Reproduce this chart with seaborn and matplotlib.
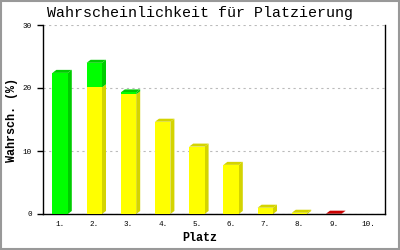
import matplotlib
matplotlib.use("Agg")
import matplotlib.pyplot as plt
from matplotlib.patches import Polygon, Rectangle
import seaborn as sns
import pandas as pd
import numpy as np

places = ["1.", "2.", "3.", "4.", "5.", "6.", "7.", "8.", "9.", "10."]
green_vals = [22.4, 3.9, 0.3, 0, 0, 0, 0, 0, 0, 0]
yellow_vals = [0, 20.1, 19.0, 14.65, 10.7, 7.8, 1.0, 0.2, 0, 0]
red_vals = [0, 0, 0, 0, 0, 0, 0, 0, 0.05, 0]

title = "Wahrscheinlichkeit für Platzierung"
xlabel = "Platz"
ylabel = "Wahrsch. (%)"

sns.set_theme(style="white")
plt.rcParams["font.family"] = ["Liberation Mono", "DejaVu Sans Mono"]

fig = plt.figure(figsize=(4, 2.5), dpi=100)
ax = fig.add_axes([43/400, 1-214/250, (385-43)/400, (214-25)/250])

df = pd.DataFrame({"place": places, "yellow": yellow_vals,
                   "green": green_vals, "red": red_vals})
bottom_green = np.array(yellow_vals)
bottom_red = np.array(yellow_vals) + np.array(green_vals)

front = {"yellow": "#ffff00", "green": "#00ff00", "red": "#ff0000"}
dark = {"yellow": "#d4d400", "green": "#00cc00", "red": "#cc0000"}

width = 0.45
sns.barplot(data=df, x="place", y="yellow", color=front["yellow"], width=width,
            saturation=1, linewidth=0, ax=ax, zorder=3)
sns.barplot(data=df, x="place", y="green", color=front["green"], width=width,
            saturation=1, linewidth=0, ax=ax, zorder=3, bottom=bottom_green)
sns.barplot(data=df, x="place", y="red", color=front["red"], width=width,
            saturation=1, linewidth=0, ax=ax, zorder=3, bottom=bottom_red)

ax.set_xlim(-0.5, 9.5)
ax.set_ylim(0, 30)
ax.set_yticks([0, 10, 20, 30])
ax.yaxis.grid(True, linestyle=(0, (2, 3)), color="#bbbbbb", linewidth=0.8, zorder=0)
ax.set_axisbelow(True)

for side in ["left", "right", "bottom"]:
    ax.spines[side].set_visible(True)
    ax.spines[side].set_color("black")
    ax.spines[side].set_linewidth(1.0)
ax.spines["top"].set_visible(False)

ax.tick_params(axis="y", left=True, length=4, width=1, color="black",
               labelsize=5.5, pad=4, labelcolor="black")
ax.tick_params(axis="x", bottom=False, length=0, labelsize=5.5, pad=5, labelcolor="black")
ax.set_xlabel(xlabel, fontsize=8.5, fontweight="bold", color="black")
ax.set_ylabel(ylabel, fontsize=8.5, fontweight="bold", color="black")
ax.xaxis.set_label_coords((200 - 43) / 342, -(238 - 214) / 189)
ax.yaxis.set_label_coords(-(43 - 12) / 342, (214 - 120) / 189)
ax.xaxis.label.set_va("center")
ax.yaxis.label.set_va("center")
fig.text(0.5, 1 - 13 / 250, title, fontsize=10.8, ha="center", va="center", color="black")

# 3D depth faces
fig.canvas.draw()
dx, dy = 4, 3
toT = ax.transData
inv = ax.transData.inverted()
n = len(places)
series = [("yellow", yellow_vals), ("green", green_vals), ("red", red_vals)]
patches = [p for p in ax.patches if isinstance(p, Rectangle)]
top_idx = {}
for si, (name, vals) in enumerate(series):
    for i in range(n):
        if vals[i] > 0:
            top_idx[i] = si
for si, (name, vals) in enumerate(series):
    for i in range(n):
        if vals[i] <= 0:
            continue
        p = patches[si * n + i]
        x0, y0 = p.get_x(), p.get_y()
        w, h = p.get_width(), p.get_height()
        (X0, Y0) = toT.transform((x0, y0))
        (X1, Y1) = toT.transform((x0 + w, y0 + h))
        side = [(X1, Y0), (X1 + dx, Y0 + dy), (X1 + dx, Y1 + dy), (X1, Y1)]
        ax.add_patch(Polygon(inv.transform(side), closed=True, facecolor=dark[name],
                             edgecolor="none", zorder=2.5, clip_on=False))
        if top_idx.get(i) == si:
            top = [(X0, Y1), (X0 + dx, Y1 + dy), (X1 + dx, Y1 + dy), (X1, Y1)]
            ax.add_patch(Polygon(inv.transform(top), closed=True,
                                 facecolor=dark[name], edgecolor="none",
                                 zorder=2.5, clip_on=False))

fig.patches.append(Rectangle((0.002, 0.003), 0.996, 0.994, transform=fig.transFigure,
                             fill=False, edgecolor="#999999", linewidth=1.5))
fig.savefig("out.png", dpi=100)
